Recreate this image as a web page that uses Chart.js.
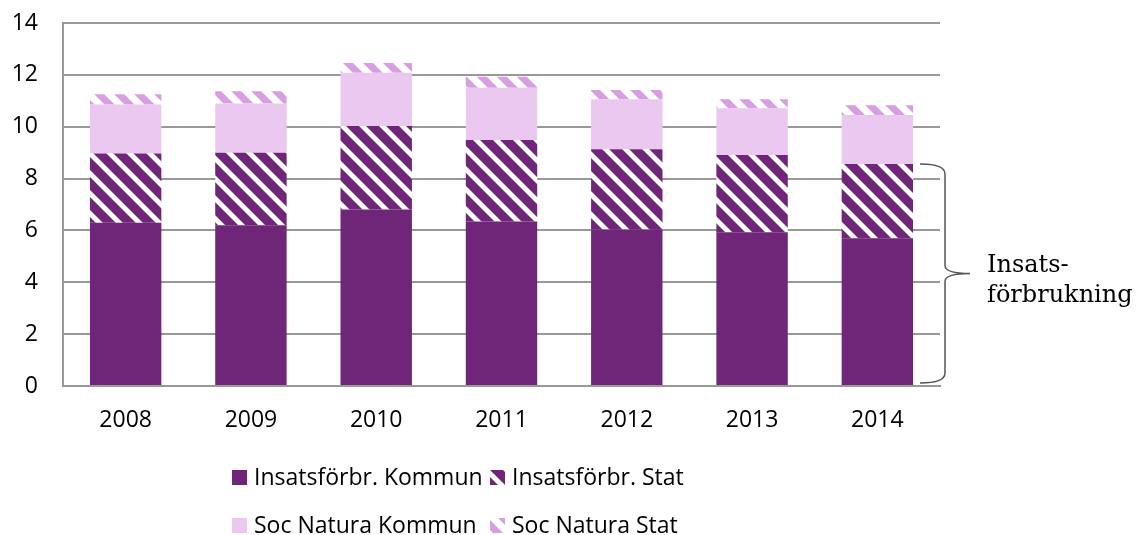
<!DOCTYPE html>
<html>
<head>
<meta charset="utf-8">
<script src="https://cdn.jsdelivr.net/npm/chart.js@4"></script>
<style>
  html, body { margin: 0; padding: 0; background: #fff; }
  #wrap { width: 1136px; height: 535px; }
</style>
</head>
<body>
<div id="wrap"><canvas id="chart" width="1136" height="535"></canvas></div>
<script>
// Data (läst ur bilden)
const years = ['2008', '2009', '2010', '2011', '2012', '2013', '2014'];
const insatsKommun = [6.30, 6.20, 6.81, 6.34, 6.04, 5.93, 5.70];
const insatsStat = [2.67, 2.80, 3.22, 3.15, 3.09, 2.98, 2.86];
const socKommun = [1.89, 1.90, 2.05, 2.01, 1.93, 1.80, 1.89];
const socStat = [0.39, 0.47, 0.38, 0.43, 0.36, 0.35, 0.38];
const legendLabels = ['Insatsförbr. Kommun', 'Insatsförbr. Stat', 'Soc Natura Kommun', 'Soc Natura Stat'];
const braceLabel = ['Insats-', 'förbrukning'];

const PURPLE = '#702678';
const LIGHT = '#eac8ef';
const STRIPE = '#d89ee2';
const GRID = '#999999';
const FONT = "'Open Sans', sans-serif";

// Diagonalt mönster (uppifrån vänster ner till höger)
function makeHatch(color, band) {
    const T = 20;
    const c = document.createElement('canvas');
    c.width = T;
    c.height = T;
    const g = c.getContext('2d');
    g.fillStyle = '#fff';
    g.fillRect(0, 0, T, T);
    g.fillStyle = color;
    [-T, 0, T].forEach(off => {
        g.beginPath();
        g.moveTo(off, 0);
        g.lineTo(off + band, 0);
        g.lineTo(off + band + T, T);
        g.lineTo(off + T, T);
        g.closePath();
        g.fill();
    });
    return g.createPattern(c, 'repeat');
}

const statHatch = makeHatch(PURPLE, 13);
const socHatch = makeHatch(STRIPE, 10);

// Egen legend i två rader
const legendPlugin = {
    id: 'twoRowLegend',
    afterDraw(chart) {
        const ctx = chart.ctx;
        const cols = [232, 490];
        const rows = [477, 525];
        ctx.save();
        ctx.font = '23px ' + FONT;
        ctx.textBaseline = 'middle';
        ctx.textAlign = 'left';
        chart.data.datasets.forEach((ds, i) => {
            const x = cols[i % 2];
            const y = rows[Math.floor(i / 2)];
            ctx.fillStyle = ds.backgroundColor;
            ctx.fillRect(x, y - 7, 15, 15);
            ctx.fillStyle = '#000';
            ctx.fillText(legendLabels[i], x + 22, y + 1);
        });
        ctx.restore();
    }
};

// Klammer och text till höger
const bracePlugin = {
    id: 'brace',
    afterDraw(chart) {
        const ctx = chart.ctx;
        const yScale = chart.scales.y;
        const last = years.length - 1;
        const top = yScale.getPixelForValue(insatsKommun[last] + insatsStat[last]);
        const bottom = yScale.getPixelForValue(0) - 3;
        const mid = (top + bottom) / 2;
        const x0 = 920, x1 = 945, tip = 970;
        ctx.save();
        ctx.strokeStyle = '#555';
        ctx.lineWidth = 1.5;
        ctx.beginPath();
        ctx.moveTo(x0, top);
        ctx.quadraticCurveTo(x1, top, x1, top + 10);
        ctx.lineTo(x1, mid - 8);
        ctx.quadraticCurveTo(x1, mid, tip, mid);
        ctx.quadraticCurveTo(x1, mid, x1, mid + 8);
        ctx.lineTo(x1, bottom - 10);
        ctx.quadraticCurveTo(x1, bottom, x0, bottom);
        ctx.stroke();
        ctx.fillStyle = '#000';
        ctx.font = "24px 'DejaVu Serif', serif";
        ctx.textAlign = 'left';
        ctx.textBaseline = 'alphabetic';
        ctx.fillText(braceLabel[0], 987, 272);
        ctx.fillText(braceLabel[1], 987, 302);
        ctx.restore();
    }
};

function drawChart() {
    const ctx = document.getElementById('chart').getContext('2d');
    new Chart(ctx, {
        type: 'bar',
        data: {
            labels: years,
            datasets: [
                { label: legendLabels[0], data: insatsKommun, backgroundColor: PURPLE },
                { label: legendLabels[1], data: insatsStat, backgroundColor: statHatch },
                { label: legendLabels[2], data: socKommun, backgroundColor: LIGHT },
                { label: legendLabels[3], data: socStat, backgroundColor: socHatch }
            ]
        },
        options: {
            responsive: false,
            animation: false,
            datasets: {
                bar: {
                    barPercentage: 0.57,
                    categoryPercentage: 1.0,
                    borderWidth: 0
                }
            },
            layout: {
                padding: { left: 0, right: 196, top: 23, bottom: 89 }
            },
            plugins: {
                legend: { display: false },
                tooltip: { enabled: false }
            },
            scales: {
                x: {
                    stacked: true,
                    grid: { display: false },
                    border: { display: true, color: GRID, width: 2 },
                    ticks: {
                        color: '#000',
                        padding: 13,
                        font: { size: 23, family: FONT }
                    },
                    afterFit: function (scale) { scale.height = 60; }
                },
                y: {
                    stacked: true,
                    min: 0,
                    max: 14,
                    grid: { color: GRID, lineWidth: 2, drawTicks: false },
                    border: { display: true, color: GRID, width: 2 },
                    ticks: {
                        stepSize: 2,
                        color: '#000',
                        padding: 25,
                        font: { size: 23, family: FONT }
                    },
                    afterFit: function (scale) {
                        scale.width = 63;
                        scale.paddingTop = 0;
                        scale.paddingBottom = 0;
                    }
                }
            }
        },
        plugins: [legendPlugin, bracePlugin]
    });
}

document.addEventListener('DOMContentLoaded', drawChart);
</script>
</body>
</html>
